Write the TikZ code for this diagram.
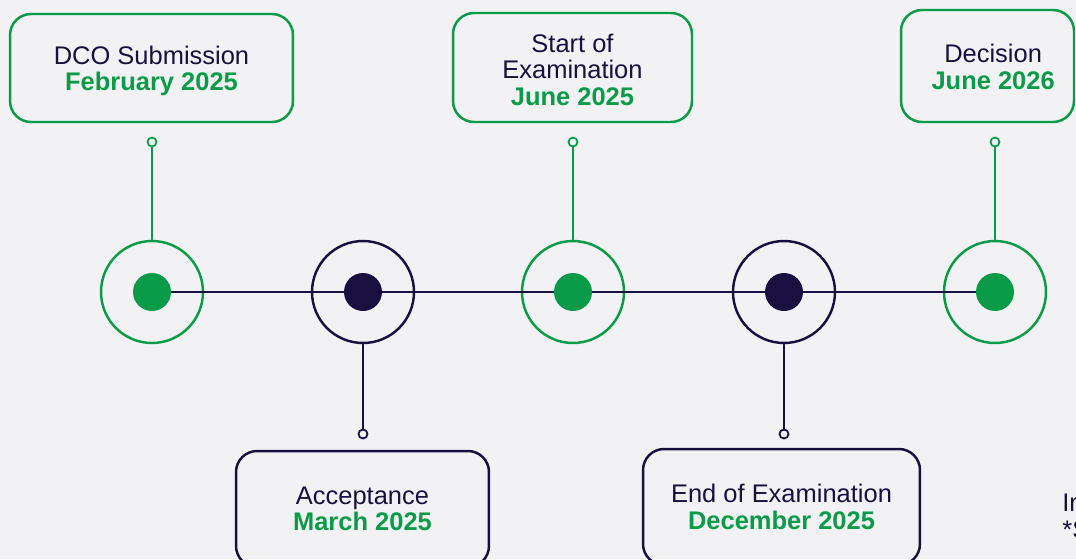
\documentclass[tikz,border=0pt]{standalone}
\usepackage{fontspec}
\setmainfont{Liberation Sans}
\definecolor{dcogreen}{HTML}{0A9B48}
\definecolor{dconavy}{HTML}{1A1040}
\definecolor{dcobg}{HTML}{F2F2F5}
\tikzset{
  stagebox/.style={draw=#1, rounded corners=0.42cm, line width=1.4pt, inner sep=0pt},
  stagetext/.style={align=center, text=dconavy, inner sep=0pt, font=\fontsize{14.5}{15.1}\selectfont},
  ringnode/.style={circle, draw=#1, line width=1.4pt, minimum size=2.04cm, inner sep=0pt},
  dotnode/.style={circle, fill=#1, minimum size=0.76cm, inner sep=0pt},
  pinhead/.style={circle, draw=#1, line width=1pt, fill=dcobg, minimum size=0.18cm, inner sep=0pt},
  stem/.style={draw=#1, line width=1.1pt},
  noteline/.style={anchor=west, inner sep=0pt, text=dconavy, font=\fontsize{14.5}{15.1}\selectfont},
}
\newcommand{\when}[1]{\textcolor{dcogreen}{\bfseries #1}}
\begin{document}
\begin{tikzpicture}[x=0.02cm, y=-0.02cm]
    \fill[dcobg] (0,0) rectangle (1076,559);
    \useasboundingbox (0,0) rectangle (1076,559);
    % the five milestones on the line
      \node[ringnode=dcogreen] (r1) at (152,292) {};
      \node[ringnode=dconavy] (r2) at (363,292) {};
      \node[ringnode=dcogreen] (r3) at (573,292) {};
      \node[ringnode=dconavy] (r4) at (784,292) {};
      \node[ringnode=dcogreen] (r5) at (995,292) {};
      \draw[dconavy, line width=0.6pt] (r1.center) -- (r5.center);
      \node[dotnode=dcogreen] (d1) at (r1) {};
      \node[dotnode=dconavy] (d2) at (r2) {};
      \node[dotnode=dcogreen] (d3) at (r3) {};
      \node[dotnode=dconavy] (d4) at (r4) {};
      \node[dotnode=dcogreen] (d5) at (r5) {};
    % boxes above and below
      \node[stagebox=dcogreen, minimum width=5.66cm, minimum height=2.16cm] (b1) at (151.5,68) {};
      \node[stagebox=dcogreen, minimum width=4.78cm, minimum height=2.18cm] (b3) at (572.5,67.5) {};
      \node[stagebox=dcogreen, minimum width=3.46cm, minimum height=2.24cm] (b5) at (987.5,66) {};
      \node[stagebox=dconavy, minimum width=5.06cm, minimum height=2.32cm] (b2) at (362.5,509) {};
      \node[stagebox=dconavy, minimum width=5.54cm, minimum height=2.32cm] (b4) at (781.5,507) {};
      \node[stagetext] (t1) at ([yshift=-1.7pt]b1.center) {DCO Submission\\\when{February 2025}};
      \node[stagetext] (t3) at ([yshift=-1.1pt]b3.center) {Start of\\Examination\\\when{June 2025}};
      \node[stagetext] (t5) at ([xshift=3.2pt, yshift=-0.6pt]b5.center) {Decision\\\when{June 2026}};
      \node[stagetext] (t2) at (b2.center) {Acceptance\\\when{March 2025}};
      \node[stagetext] (t4) at (b4.center) {End of Examination\\\when{December 2025}};
    % stems with their pins
      \node[pinhead=dcogreen] (p1) at (152,142) {};
      \node[pinhead=dconavy] (p2) at (363,434) {};
      \node[pinhead=dcogreen] (p3) at (573,142) {};
      \node[pinhead=dconavy] (p4) at (784,434) {};
      \node[pinhead=dcogreen] (p5) at (995,142) {};
      \draw[stem=dcogreen] (r1.north) -- (p1.south);
      \draw[stem=dconavy] (r2.south) -- (p2.north);
      \draw[stem=dcogreen] (r3.north) -- (p3.south);
      \draw[stem=dconavy] (r4.south) -- (p4.north);
      \draw[stem=dcogreen] (r5.north) -- (p5.south);
      \node[noteline] (n1) at (1062,503) {In};
      \node[noteline] (n2) at (1062,530) {*S};
    \end{tikzpicture}
\end{document}
